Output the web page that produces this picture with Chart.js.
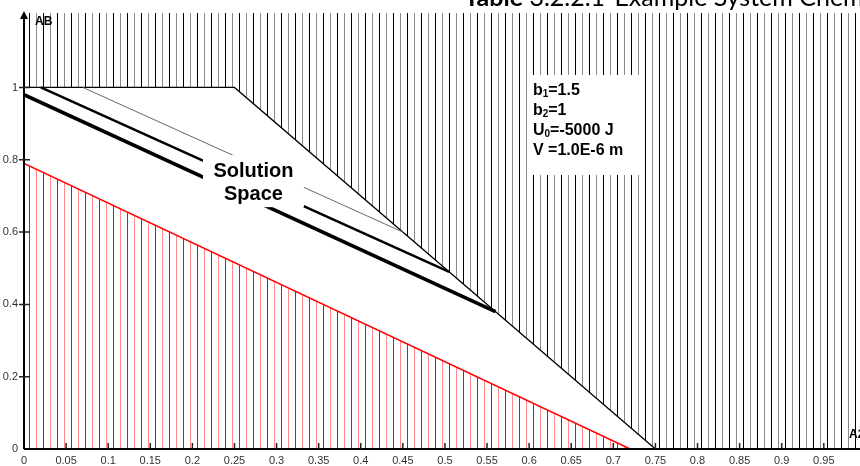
<!DOCTYPE html>
<html>
<head>
<meta charset="utf-8">
<script src="https://cdn.jsdelivr.net/npm/chart.js@4.4.1/dist/chart.umd.min.js"></script>
<style>
  html, body { margin: 0; padding: 0; background: #fff; }
  #wrap { width: 860px; height: 466px; }
</style>
</head>
<body>
<div id="wrap"><canvas id="chart" width="860" height="466"></canvas></div>
<script>
// boundary points (x = A2, y = AB)
const upperA2 = [0, 0.25, 0.75, 1.0];
const upperAB = [1, 1, 0, 0];
const lowerA2 = [0, 0.72];
const lowerAB = [0.79, 0];
const thinA2 = [0.07, 0.45];
const thinAB = [1, 0.6];
const midA2 = [0.02, 0.505];
const midAB = [1, 0.49];
const boldA2 = [0, 0.56];
const boldAB = [0.98, 0.38];

const xTicks = [0, 0.05, 0.1, 0.15, 0.2, 0.25, 0.3, 0.35, 0.4, 0.45, 0.5, 0.55, 0.6, 0.65, 0.7, 0.75, 0.8, 0.85, 0.9, 0.95];
const xTickLabels = ['0', '0.05', '0.1', '0.15', '0.2', '0.25', '0.3', '0.35', '0.4', '0.45', '0.5', '0.55', '0.6', '0.65', '0.7', '0.75', '0.8', '0.85', '0.9', '0.95'];
const yTicks = [0, 0.2, 0.4, 0.6, 0.8, 1];
const yTickLabels = ['0', '0.2', '0.4', '0.6', '0.8', '1'];

const paramLines = ['b_1=1.5', 'b_2=1', 'U_0=-5000 J', 'V =1.0E-6 m'];
const spaceLabel = ['Solution', 'Space'];
const titleBold = 'Table';
const titleRest = ' 3.2.2.1-Example System Chem';

const canvas = document.getElementById('chart');
const ctx = canvas.getContext('2d');

function toXY(xs, ys) {
    return xs.map((x, i) => ({ x: x, y: ys[i] }));
}

// vertical hatching, two alternating line colours
function hatch(c1, c2) {
    const p = document.createElement('canvas');
    p.width = 14;
    p.height = 8;
    const g = p.getContext('2d');
    g.fillStyle = c1;
    g.fillRect(1, 0, 1, 8);
    g.fillStyle = c2;
    g.fillRect(8, 0, 1, 8);
    return ctx.createPattern(p, 'repeat');
}

// draws "b_1" style text with a one-char subscript
function richText(g, str, x, y, size) {
    const parts = str.split('_');
    let cx = x;
    parts.forEach((part, i) => {
        if (i > 0) {
            g.font = 'bold ' + Math.round(size * 0.62) + 'px "Liberation Sans"';
            g.fillText(part[0], cx, y + 2);
            cx += g.measureText(part[0]).width;
            part = part.slice(1);
        }
        g.font = 'bold ' + size + 'px "Liberation Sans"';
        g.fillText(part, cx, y);
        cx += g.measureText(part).width;
    });
}

const overlay = {
    id: 'overlay',
    afterDatasetsDraw(chart) {
        const g = chart.ctx;
        const xs = chart.scales.x;
        const ys = chart.scales.y;
        const px = v => xs.getPixelForValue(v);
        const py = v => ys.getPixelForValue(v);
        const area = chart.chartArea;
        g.save();

        // white label boxes
        g.fillStyle = '#fff';
        g.fillRect(px(0.2126), py(0.813), px(0.3325) - px(0.2126), py(0.669) - py(0.813));
        g.fillRect(px(0.5986), py(1.0346), px(0.7316) - px(0.5986), py(0.758) - py(1.0346));

        g.fillStyle = '#000';
        g.textBaseline = 'alphabetic';
        g.textAlign = 'center';
        g.font = 'bold 20px "Liberation Sans"';
        g.fillText(spaceLabel[0], px(0.2725), py(0.7524));
        g.fillText(spaceLabel[1], px(0.2725), py(0.6888));

        g.textAlign = 'left';
        paramLines.forEach((line, i) => {
            richText(g, line, px(0.6045), py(0.979) + i * 20, 16);
        });

        // axes
        const x0 = px(0);
        const y0 = py(0);
        g.strokeStyle = '#000';
        g.lineWidth = 2;
        g.beginPath();
        g.moveTo(x0, y0);
        g.lineTo(chart.width, y0);
        g.moveTo(x0, y0);
        g.lineTo(x0, area.top + 4);
        g.stroke();
        g.beginPath();
        g.moveTo(x0, area.top - 2);
        g.lineTo(x0 - 4, area.top + 6);
        g.lineTo(x0 + 4, area.top + 6);
        g.closePath();
        g.fillStyle = '#000';
        g.fill();

        g.lineWidth = 1.5;
        g.strokeStyle = '#222';
        g.beginPath();
        xTicks.forEach(v => {
            if (v === 0) return;
            g.moveTo(px(v), y0 - 6);
            g.lineTo(px(v), y0);
        });
        yTicks.forEach(v => {
            if (v === 0) return;
            g.moveTo(x0 - 5, py(v));
            g.lineTo(x0 + 6, py(v));
        });
        g.stroke();

        g.fillStyle = '#000';
        g.font = 'bold 12px "Liberation Sans"';
        g.fillText('AB', x0 + 11, area.top + 12);
        g.fillText('A2', 849, y0 - 11);

        // document caption that bleeds in at the top
        g.font = 'bold 25px Lato';
        const tw = g.measureText(titleBold).width;
        g.fillText(titleBold, 523 - tw, 6);
        g.font = '25px Lato';
        g.fillText(titleRest, 523, 6);

        g.restore();
    }
};

const blackHatch = hatch('#000', '#8a8a8a');
const redHatch = hatch('#ff0000', '#ff8c8c');

new Chart(ctx, {
    type: 'line',
    data: {
        datasets: [
            { label: 'bold', data: toXY(boldA2, boldAB), borderColor: '#000', borderWidth: 3.5, fill: false },
            { label: 'mid', data: toXY(midA2, midAB), borderColor: '#000', borderWidth: 2.5, fill: false },
            { label: 'thin', data: toXY(thinA2, thinAB), borderColor: '#666', borderWidth: 1, fill: false },
            { label: 'lower', data: toXY(lowerA2, lowerAB), borderColor: '#ff0000', borderWidth: 1.5, backgroundColor: redHatch, fill: 'origin' },
            { label: 'upper', data: toXY(upperA2, upperAB), borderColor: '#000', borderWidth: 1.3, backgroundColor: blackHatch, fill: 'end' }
        ]
    },
    options: {
        responsive: false,
        animation: false,
        devicePixelRatio: 1,
        elements: { point: { radius: 0 }, line: { tension: 0 } },
        layout: { padding: { top: 13, left: 0, right: 0, bottom: 0 } },
        plugins: { legend: { display: false }, tooltip: { enabled: false } },
        scales: {
            x: {
                type: 'linear',
                min: 0,
                max: 0.993,
                grid: { display: false, drawTicks: false },
                border: { display: false },
                afterBuildTicks: s => { s.ticks = xTicks.map(v => ({ value: v })); },
                afterFit: s => { s.height = 17; },
                ticks: {
                    padding: 5,
                    color: '#333',
                    maxRotation: 0,
                    autoSkip: false,
                    font: { family: 'Liberation Sans', size: 11 },
                    callback: (v, i) => xTickLabels[i]
                }
            },
            y: {
                min: 0,
                max: 1.206,
                grid: { display: false, drawTicks: false },
                border: { display: false },
                afterBuildTicks: s => { s.ticks = yTicks.map(v => ({ value: v })); },
                afterFit: s => { s.width = 24; },
                ticks: {
                    padding: 6,
                    color: '#333',
                    font: { family: 'Liberation Sans', size: 11 },
                    callback: (v, i) => yTickLabels[i]
                }
            }
        }
    },
    plugins: [overlay]
});
</script>
</body>
</html>
